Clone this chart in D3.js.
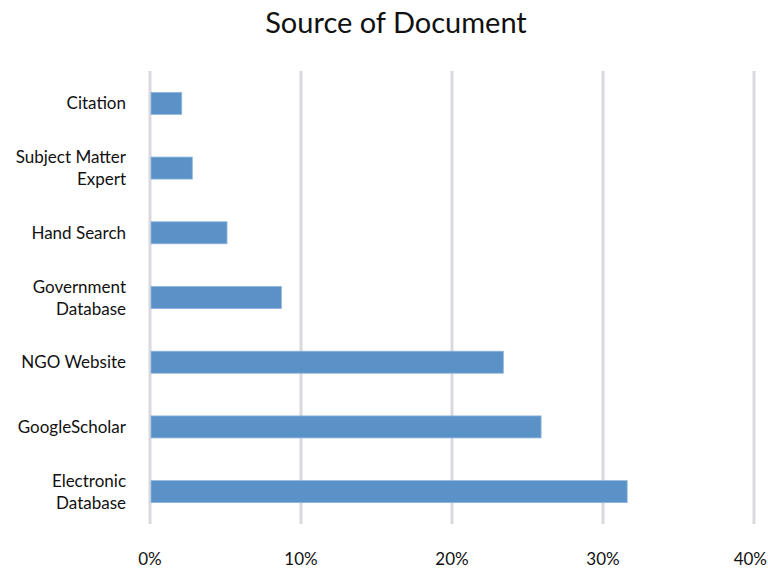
<!DOCTYPE html>
<html>
<head>
<meta charset="utf-8">
<script src="https://cdn.jsdelivr.net/npm/d3@7"></script>
<style>
  body { margin: 0; background: #fff; }
  text { font-family: Lato, "Open Sans", sans-serif; fill: #111; }
</style>
</head>
<body>
<script>
var categories = [
  ["Citation"],
  ["Subject Matter", "Expert"],
  ["Hand Search"],
  ["Government", "Database"],
  ["NGO Website"],
  ["GoogleScholar"],
  ["Electronic", "Database"]
];
var values = [0.021, 0.028, 0.051, 0.087, 0.234, 0.259, 0.316];
var ticks = [0, 0.1, 0.2, 0.3, 0.4];

var w = 768;
var h = 569;
var plotLeft = 150, plotRight = 754, plotTop = 71, plotBottom = 524;

var svg = d3.select("body").append("svg")
    .attr("width", w)
    .attr("height", h);

var x = d3.scaleLinear().domain([0, 0.4]).range([plotLeft, plotRight]);
var y = d3.scaleBand()
    .domain(d3.range(categories.length))
    .range([plotTop, plotBottom])
    .paddingInner(0.66)
    .paddingOuter(0.33);

svg.append("text")
   .attr("x", 396)
   .attr("y", 33)
   .attr("text-anchor", "middle")
   .attr("font-size", "29px")
   .text("Source of Document");

// gridlines
svg.selectAll("line.grid")
   .data(ticks)
   .enter()
   .append("line")
   .attr("class", "grid")
   .attr("x1", function(d) { return x(d); })
   .attr("x2", function(d) { return x(d); })
   .attr("y1", plotTop)
   .attr("y2", plotBottom)
   .attr("stroke", "#d9d9df")
   .attr("stroke-width", 3);

// bars
svg.selectAll("rect")
   .data(values)
   .enter()
   .append("rect")
   .attr("x", x(0) + 1)
   .attr("y", function(d, i) { return y(i); })
   .attr("width", function(d) { return x(d) - x(0) - 1; })
   .attr("height", y.bandwidth())
   .attr("fill", "#5a92c7")
   .attr("stroke", "#8fb4dc")
   .attr("stroke-width", 0.8);

// x tick labels (last one pulled in so it stays on the page)
svg.selectAll("text.tick")
   .data(ticks)
   .enter()
   .append("text")
   .attr("class", "tick")
   .attr("x", function(d, i) { return i === ticks.length - 1 ? w - 1 : x(d); })
   .attr("y", 565)
   .attr("text-anchor", function(d, i) { return i === ticks.length - 1 ? "end" : "middle"; })
   .attr("font-size", "17px")
   .text(d3.format(".0%"));

// category labels
var lab = svg.selectAll("text.cat")
   .data(categories)
   .enter()
   .append("text")
   .attr("class", "cat")
   .attr("text-anchor", "end")
   .attr("font-size", "17px")
   .attr("y", function(d, i) { return y(i) + y.bandwidth() / 2 + 6 - (d.length - 1) * 11; });

lab.selectAll("tspan")
   .data(function(d) { return d; })
   .enter()
   .append("tspan")
   .attr("x", 126)
   .attr("dy", function(d, j) { return j === 0 ? 0 : 22; })
   .text(function(d) { return d; });
</script>
</body>
</html>
